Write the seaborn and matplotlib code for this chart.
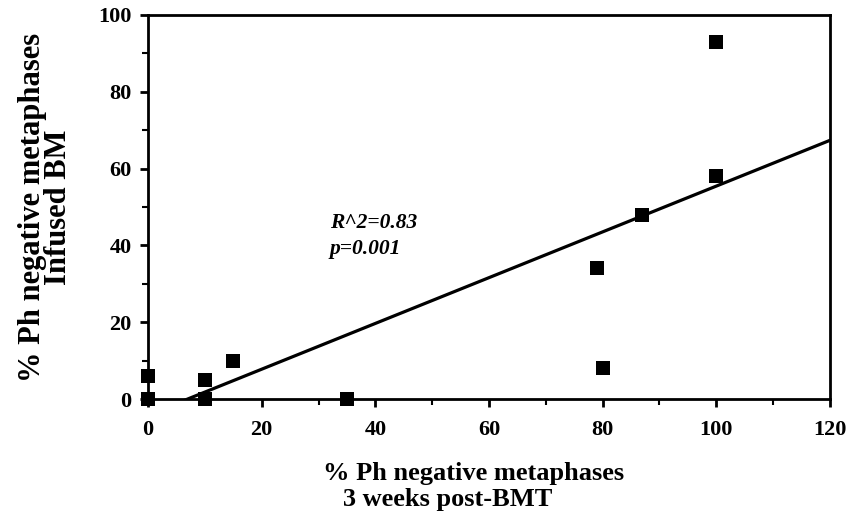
import matplotlib
matplotlib.use("Agg")
import matplotlib.pyplot as plt
import seaborn as sns
import pandas as pd
from matplotlib.ticker import MultipleLocator

# Data
pct_3wk_post_bmt = [0, 0, 10, 10, 15, 35, 80, 79, 87, 100, 100]
pct_infused_bm = [0, 6, 5, 0, 10, 0, 8, 34, 48, 58, 93]
x_ticks = [0, 20, 40, 60, 80, 100, 120]
y_ticks = [0, 20, 40, 60, 80, 100]
stats_text = "R^2=0.83\np=0.001"

df = pd.DataFrame({"x": pct_3wk_post_bmt, "y": pct_infused_bm})

sns.set_theme(style="white")
plt.rcParams["font.family"] = ["Liberation Serif", "DejaVu Serif"]
plt.rcParams["font.weight"] = "bold"
plt.rcParams["text.color"] = "black"
plt.rcParams["axes.labelcolor"] = "black"
plt.rcParams["xtick.color"] = "black"
plt.rcParams["ytick.color"] = "black"

fig = plt.figure(figsize=(8.46, 5.28), dpi=100)
ax = fig.add_axes([0.175, 0.244, 0.806, 0.728])
ax.set_xlim(0, 120)
ax.set_ylim(0, 100)

sns.regplot(data=df, x="x", y="y", ax=ax, ci=None, truncate=False,
            marker="s",
            scatter_kws=dict(s=110, color="black", alpha=1, clip_on=False,
                             zorder=5, linewidths=0),
            line_kws=dict(color="black", lw=2.3))
ax.set_xlim(0, 120)
ax.set_ylim(0, 100)

ax.set_xticks(x_ticks)
ax.set_yticks(y_ticks)
ax.xaxis.set_minor_locator(MultipleLocator(10))
ax.yaxis.set_minor_locator(MultipleLocator(10))
ax.tick_params(axis="both", which="major", direction="out", length=6, width=2,
               color="black", labelcolor="black", labelsize=16, pad=6,
               bottom=True, left=True)
ax.tick_params(axis="x", which="major", pad=9)
ax.tick_params(axis="both", which="minor", direction="out", length=4, width=1.5,
               color="black", bottom=True, left=True)
for lab in ax.get_xticklabels() + ax.get_yticklabels():
    lab.set_fontweight("bold")

for sp in ax.spines.values():
    sp.set_visible(True)
    sp.set_color("black")
    sp.set_linewidth(2)

ax.set_xlabel("% Ph negative metaphases\n   3 weeks post-BMT", fontsize=19,
              fontweight="bold", linespacing=1.2, color="black",
              multialignment="left")
ax.xaxis.set_label_coords(0.478, -0.163)
ax.set_ylabel("% Ph negative metaphases\nInfused BM", fontsize=22,
              fontweight="bold", labelpad=18, linespacing=0.85, color="black")

ax.text(32, 48.5, stats_text, fontsize=15.5, fontweight="bold", style="italic",
        va="top", ha="left", linespacing=1.45, color="black")

fig.savefig("out.png", dpi=100, facecolor="white")
